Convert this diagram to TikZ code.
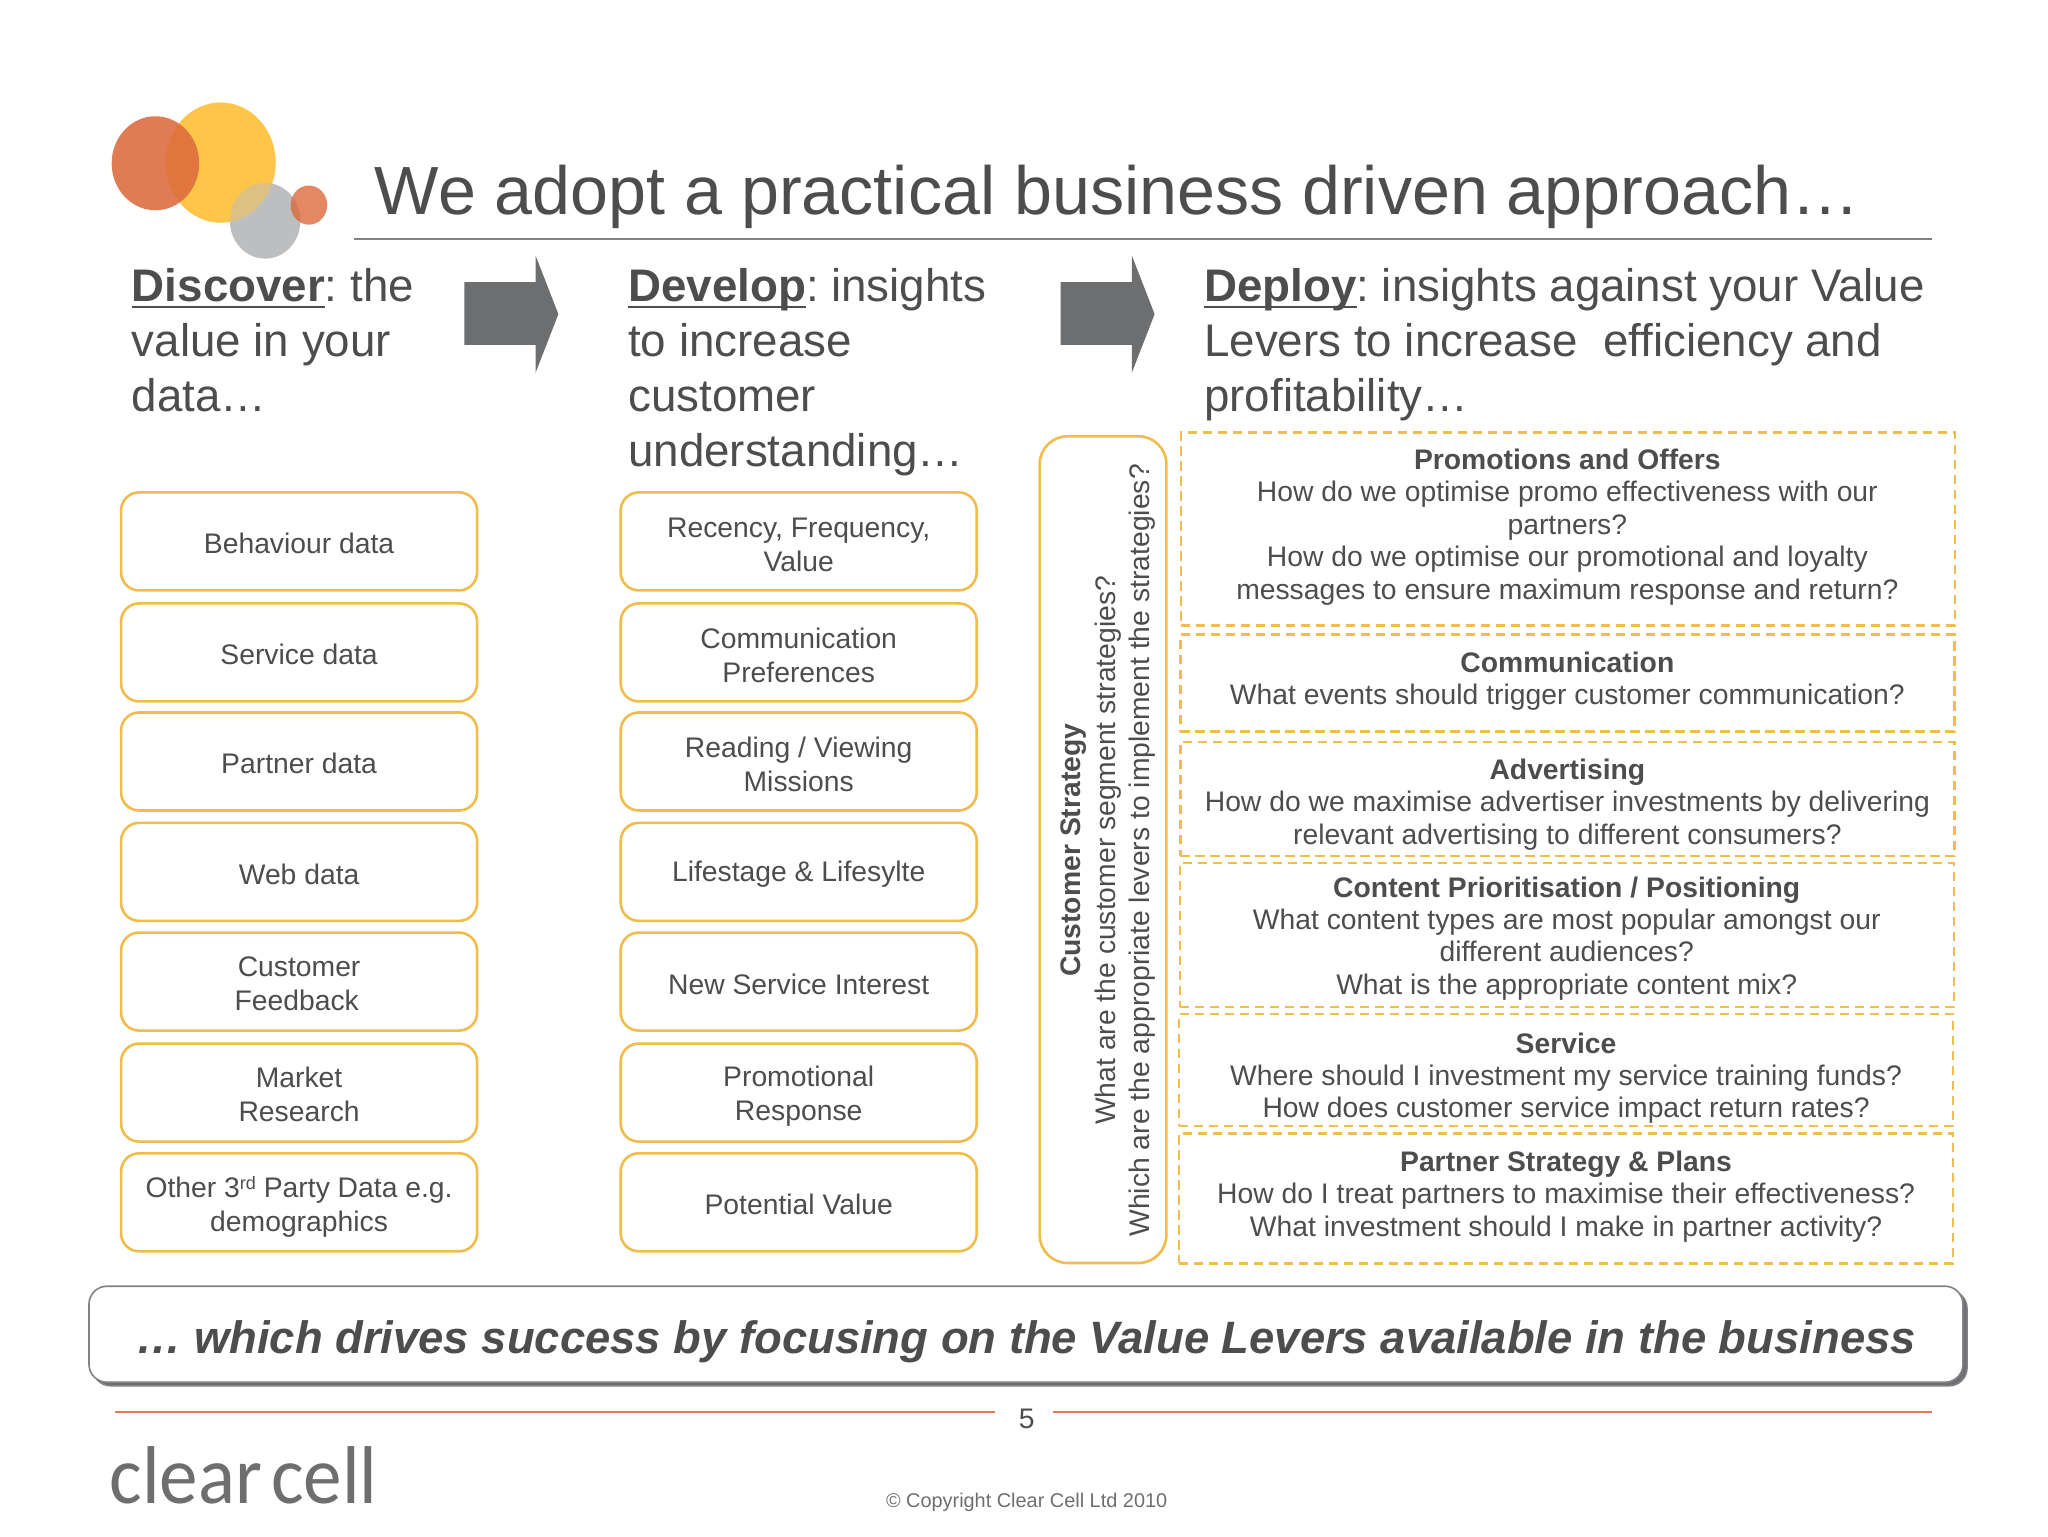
\documentclass[tikz,border=0pt]{standalone}
\usepackage{fontspec}
\setmainfont{Liberation Sans}
\newfontfamily\logofont{Carlito}
\definecolor{ink}{HTML}{4D4D4F}
\definecolor{gold}{HTML}{F0BC4C}
\definecolor{arrowgrey}{HTML}{6D6E70}
\definecolor{ruleline}{HTML}{808285}
\definecolor{redline}{HTML}{DF7B55}
\definecolor{logored}{HTML}{DC6A3C}
\definecolor{logoyellow}{HTML}{FEC548}
\definecolor{logogrey}{HTML}{BCBEC0}
\newcommand\headul[1]{\setbox0\hbox{#1}\rlap{\rule[-3pt]{\wd0}{1pt}}\box0}
\newcommand\lowerby[1]{\rule{0pt}{#1pt}}
\frenchspacing
\tikzset{
  x=0.65306pt,y=-0.65306pt,
  every node/.style={inner sep=0pt,outer sep=0pt,text=ink},
  headtext/.style={anchor=base west,align=left,font=\fontsize{22.85}{27.4}\selectfont},
  databox/.style={draw=gold,line width=1.3pt,rounded corners=9pt,fill=white,minimum width=178pt,minimum height=49pt,align=center,font=\fontsize{14.15}{17}\selectfont},
  dashbox/.style={draw=gold,line width=1.2pt,dash pattern=on 4.6pt off 2.9pt,minimum width=387pt},
  dashtext/.style={align=center,font=\fontsize{14.15}{16.2}\selectfont},
  bigarrow/.style={fill=arrowgrey},
}
\begin{document}
\begin{tikzpicture}
\useasboundingbox (0,0) rectangle (1568,1176);
% logo
\fill[logoyellow] (169,124.5) ellipse [x radius=42,y radius=46];
\fill[logogrey] (203,169) ellipse [x radius=27,y radius=29];
\fill[logoyellow,opacity=.5] (169,124.5) ellipse [x radius=42,y radius=46];
\fill[logored,opacity=.88] (119,125) ellipse [x radius=33.5,y radius=36];
\fill[logored,opacity=.8] (236.5,157) ellipse [x radius=14,y radius=15];
% title
\node[anchor=base west,font=\fontsize{34.1}{40}\selectfont] (title) at (287,164) {We adopt a practical business driven approach…};
\draw[ruleline,line width=1pt] (271,183) -- (1479,183);
% headings
\node[headtext] (h1) at (101,315) {\headul{\textbf{Discover}}: the\\value in your\\data…};
\node[headtext] (h2) at (481,357) {\headul{\textbf{Develop}}: insights\\to increase\\customer\\understanding…};
\node[headtext] (h3) at (922,315) {\headul{\textbf{Deploy}}: insights against your Value\\Levers to increase\hspace{.56em}efficiency and\\profitability…};
% arrows
\fill[bigarrow] (355.5,216) -- (410,216) -- (410,195.5) -- (427.5,240.5) -- (410,285.5) -- (410,264) -- (355.5,264) -- cycle;
\fill[bigarrow] (812,216) -- (866.5,216) -- (866.5,195.5) -- (884,240.5) -- (866.5,285.5) -- (866.5,264) -- (812,264) -- cycle;
% column 1
\node[databox] (a1) at (229,414.5) {\lowerby{12.6}Behaviour data};
\node[databox] (a2) at (229,499.5) {\lowerby{12.6}Service data};
\node[databox] (a3) at (229,583) {\lowerby{12.6}Partner data};
\node[databox] (a4) at (229,667.5) {\lowerby{12.6}Web data};
\node[databox] (a5) at (229,751.5) {\lowerby{11.6}Customer\\Feedback\,};
\node[databox] (a6) at (229,836.5) {\lowerby{11.6}Market\\Research};
\node[databox] (a7) at (229,920.5) {\lowerby{15}Other 3{\fontsize{9}{9}\selectfont\raisebox{.45em}{rd}} Party Data e.g.\\demographics};
% column 2
\node[databox] (b1) at (611.5,414.5) {\lowerby{12.9}Recency, Frequency,\\Value};
\node[databox] (b2) at (611.5,499.5) {\lowerby{12.9}Communication\\Preferences};
\node[databox] (b3) at (611.5,583) {\lowerby{12.9}Reading / Viewing\\Missions};
\node[databox] (b4) at (611.5,667.5) {\lowerby{12.9}Lifestage \& Lifesylte};
\node[databox] (b5) at (611.5,751.5) {\lowerby{12.6}New Service Interest};
\node[databox] (b6) at (611.5,836.5) {\lowerby{14.2}Promotional\\Response};
\node[databox] (b7) at (611.5,920.5) {\lowerby{12.6}Potential Value};
% customer strategy
\draw[gold,line width=1.3pt,rounded corners=14pt,fill=white] (796,334) rectangle (893,967);
\node[rotate=90,align=center,font=\fontsize{14.15}{17.2}\selectfont] (cs) at (848.5,651) {\textbf{Customer Strategy}\\What are the customer segment strategies?\\Which are the appropriate levers to implement the strategies?};
% deploy boxes
\node[dashbox,minimum height=96.5pt] (d1) at (1200.5,405) {};
\node[dashbox,minimum height=48.5pt] (d2) at (1200,523) {};
\node[dashbox,minimum height=57pt] (d3) at (1200,611.5) {};
\node[dashbox,minimum height=72pt] (d4) at (1199.5,716) {};
\node[dashbox,minimum height=56pt] (d5) at (1199,819) {};
\node[dashbox,minimum height=65pt] (d6) at (1199,917.5) {};
\node[dashtext] (t1) at (1200,403.5) {\textbf{Promotions and Offers}\\How do we optimise promo effectiveness with our\\partners?\\How do we optimise our promotional and loyalty\\messages to ensure maximum response and return?};
\node[dashtext] (t2) at (1200,521.5) {\textbf{Communication}\\What events should trigger customer communication?};
\node[dashtext] (t3) at (1200,616) {\textbf{Advertising}\\How do we maximise advertiser investments by delivering\\relevant advertising to different consumers?};
\node[dashtext] (t4) at (1199.5,718.5) {\textbf{Content Prioritisation / Positioning}\\What content types are most popular amongst our\\different audiences?\\What is the appropriate content mix?};
\node[dashtext] (t5) at (1199,825.5) {\textbf{Service}\\Where should I investment my service training funds?\\How does customer service impact return rates?};
\node[dashtext] (t6) at (1199,916) {\textbf{Partner Strategy \& Plans}\\How do I treat partners to maximise their effectiveness?\\What investment should I make in partner activity?};
% bottom banner
\draw[ruleline,line width=.8pt,fill=arrowgrey,rounded corners=9pt] (71,988) rectangle (1506,1061);
\node[draw=ruleline,line width=.8pt,fill=white,rounded corners=9pt,minimum width=937pt,minimum height=48pt] (banner) at (785.5,1021.5) {};
\node[font=\fontsize{22.7}{27}\selectfont\bfseries\itshape] (bannertext) at (785.5,1027) {… which drives success by focusing on the Value Levers available in the business};
% footer
\draw[redline,line width=.9pt] (88,1081) -- (762,1081);
\draw[redline,line width=.9pt] (806,1081) -- (1479,1081);
\node[font=\fontsize{14.15}{17}\selectfont] (page) at (786,1086) {5};
\node[anchor=base west,text=arrowgrey,font=\logofont\fontsize{41}{50}\selectfont] (logo) at (84,1151) {\scalebox{.94}[1]{clear\hspace{.12em}cell}};
\node[font=\fontsize{9.95}{12}\selectfont,text=arrowgrey] (copy) at (786,1150.5) {© Copyright Clear Cell Ltd 2010};
\end{tikzpicture}
\end{document}
